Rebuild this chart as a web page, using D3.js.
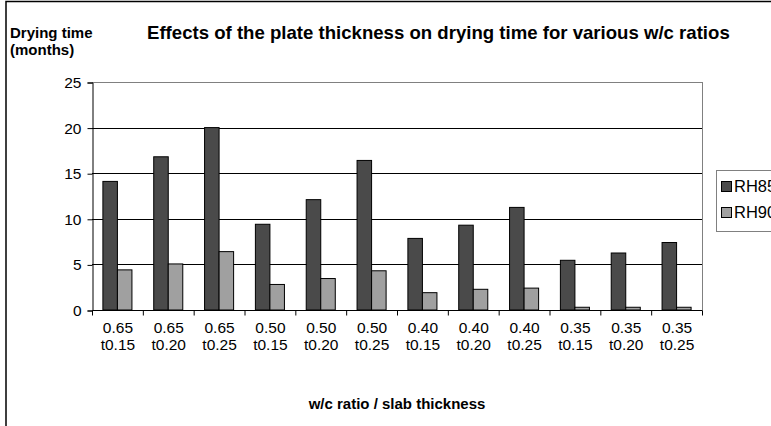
<!DOCTYPE html>
<html><head><meta charset="utf-8">
<script src="https://cdn.jsdelivr.net/npm/d3@7/dist/d3.min.js"></script>
<style>body{margin:0;background:#fff}svg{display:block;font-family:"Liberation Sans",Arial,sans-serif}</style>
</head><body><svg id="c" width="771" height="426"></svg>
<script>
const ratios = ["0.65","0.65","0.65","0.50","0.50","0.50","0.40","0.40","0.40","0.35","0.35","0.35"];
const thick  = ["t0.15","t0.20","t0.25","t0.15","t0.20","t0.25","t0.15","t0.20","t0.25","t0.15","t0.20","t0.25"];
const rh85 = [14.1,16.8,20.0,9.4,12.1,16.4,7.85,9.3,11.25,5.45,6.25,7.4];
const rh90 = [4.4,5.05,6.4,2.8,3.45,4.3,1.9,2.27,2.4,0.3,0.3,0.3];
const seriesNames = ["RH85","RH90"];
const yTicks = [0,5,10,15,20,25];
const colors = ["#4a4a4a","#a0a0a0"];

const svg = d3.select("#c");
const L=92,R=702,T=82,B=310;
const cats = d3.range(ratios.length);
const x = d3.scaleBand().domain(cats).range([L,R]).paddingInner(0).paddingOuter(0);
const y = d3.scaleLinear().domain([0,25]).range([B,T]);
const bw = x.bandwidth()/3.5;
const x1 = d3.scaleBand().domain([0,1]).range([0,2*bw]);

// outer border
svg.append("rect").attr("x",6).attr("y",1.5).attr("width",800).attr("height",440)
  .attr("fill","none").attr("stroke","#000").attr("stroke-width",1.5);

// gridlines
svg.append("g").selectAll("line").data(yTicks.filter(d=>d>0)).join("line")
  .attr("x1",L).attr("x2",R).attr("y1",d=>Math.round(y(d))+0.5).attr("y2",d=>Math.round(y(d))+0.5)
  .attr("stroke",d=>d===25?"#808080":"#000").attr("stroke-width",1);
svg.append("line").attr("x1",R+0.5).attr("x2",R+0.5).attr("y1",T).attr("y2",B).attr("stroke","#808080");

// bars
const data = [rh85, rh90];
data.forEach((vals,s)=>{
  svg.append("g").selectAll("rect").data(vals).join("rect")
    .attr("x",(d,i)=>x(i)+(x.bandwidth()-2*bw)/2+x1(s))
    .attr("y",d=>y(d)).attr("width",bw).attr("height",d=>y(0)-y(d))
    .attr("fill",colors[s]).attr("stroke","#000").attr("stroke-width",1);
});

// y axis
const ya = d3.axisLeft(y).tickValues(yTicks).tickSize(5).tickPadding(6);
const yg = svg.append("g").attr("transform",`translate(${L+0.5},0.5)`).call(ya);
yg.select(".domain").attr("stroke","#000");
yg.selectAll("text").attr("font-size",15.5).attr("fill","#000");

// x axis
const xb = d3.scaleLinear().domain([0,12]).range([L,R]);
const xg = svg.append("g").attr("transform",`translate(0.5,${Math.round(B)+0.5})`);
xg.append("line").attr("x1",L).attr("x2",R).attr("stroke","#000");
xg.selectAll("line.t").data(d3.range(13)).join("line").attr("class","t")
  .attr("x1",d=>xb(d)).attr("x2",d=>xb(d)).attr("y1",0).attr("y2",5).attr("stroke","#000");
const lab = xg.selectAll("text").data(cats).join("text")
  .attr("x",d=>x(d)+x.bandwidth()/2).attr("text-anchor","middle").attr("font-size",15.5);
lab.append("tspan").attr("x",d=>x(d)+x.bandwidth()/2).attr("y",22).text(d=>ratios[d]);
lab.append("tspan").attr("x",d=>x(d)+x.bandwidth()/2).attr("y",39).text(d=>thick[d]);

// titles
svg.append("text").attr("x",147).attr("y",39).attr("font-size",18.6).attr("font-weight","bold")
  .text("Effects of the plate thickness on drying time for various w/c ratios");
svg.append("text").attr("x",10).attr("y",38).attr("font-size",15).attr("font-weight","bold").text("Drying time");
svg.append("text").attr("x",10).attr("y",55).attr("font-size",15).attr("font-weight","bold").text("(months)");
svg.append("text").attr("x",(L+R)/2).attr("y",409).attr("text-anchor","middle").attr("font-size",15).attr("font-weight","bold")
  .text("w/c ratio / slab thickness");

// legend
const lg = svg.append("g");
lg.append("rect").attr("x",716.5).attr("y",170.5).attr("width",80).attr("height",61)
  .attr("fill","#fff").attr("stroke","#808080");
seriesNames.forEach((n,i)=>{
  lg.append("rect").attr("x",721.5).attr("y",181.5+i*26).attr("width",10).attr("height",10)
    .attr("fill",colors[i]).attr("stroke","#000");
  lg.append("text").attr("x",734).attr("y",192+i*26).attr("font-size",16.5).text(n);
});
</script></body></html>
